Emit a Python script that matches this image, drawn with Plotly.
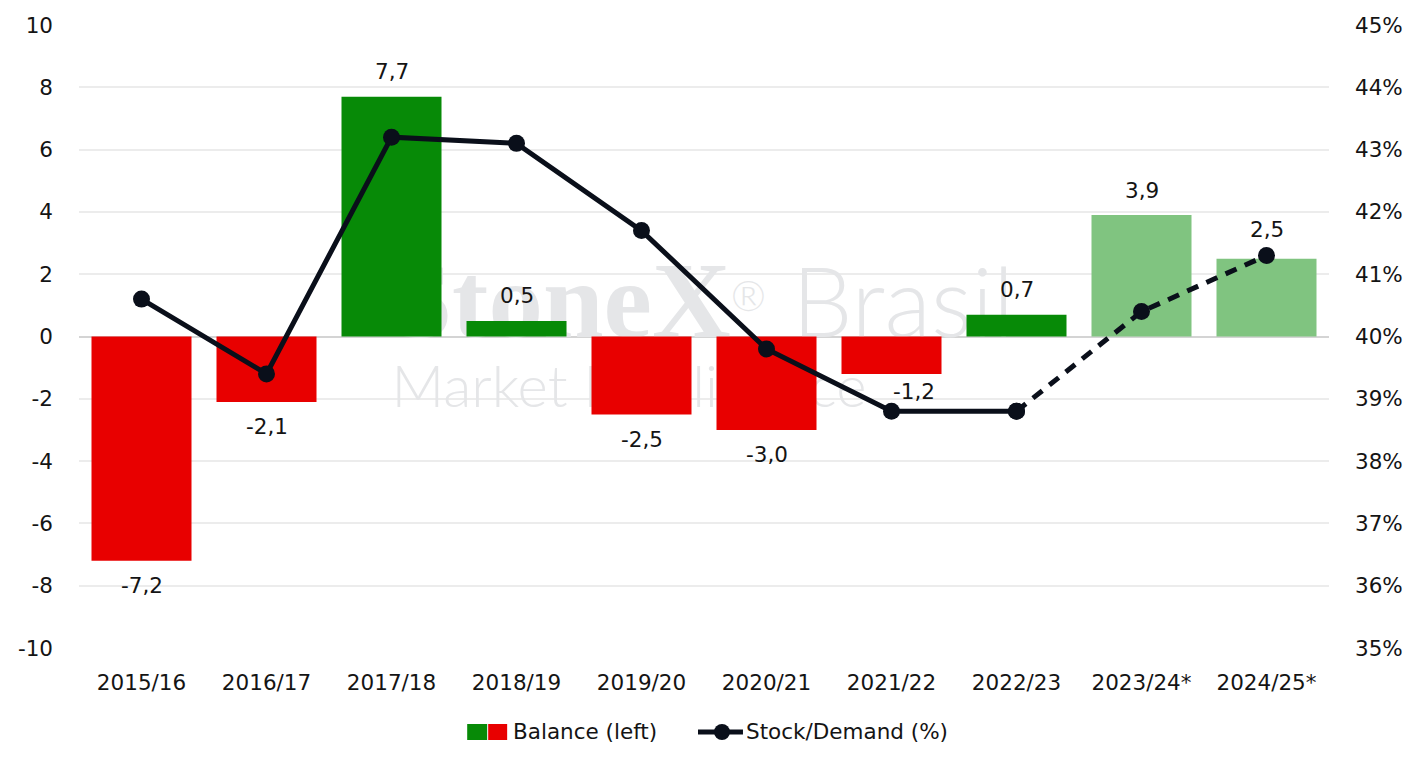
import plotly.graph_objects as go

# ---------------- data ----------------
seasons = ["2015/16", "2016/17", "2017/18", "2018/19", "2019/20",
           "2020/21", "2021/22", "2022/23", "2023/24*", "2024/25*"]
balance = [-7.2, -2.1, 7.7, 0.5, -2.5, -3.0, -1.2, 0.7, 3.9, 2.5]
stock_demand = [40.6, 39.4, 43.2, 43.1, 41.7, 39.8, 38.8, 38.8, 40.4, 41.3]
forecast = [False] * 8 + [True, True]
left_ticks = list(range(-10, 11, 2))
right_ticks = list(range(35, 46))

GREEN = "#078a07"
RED = "#e80000"
LIGHT_GREEN = "#80c480"
LINE = "#0a0f1a"
FONT = "DejaVu Sans"
TXT = "#141414"
FS = 21.5

bar_colors = [LIGHT_GREEN if f else (GREEN if v >= 0 else RED)
              for v, f in zip(balance, forecast)]

W, H = 1418, 766
ML, MR, MT, MB = 78.5, 88.5, 25, 118
PW = W - ML - MR
PH = H - MT - MB


def px_x(p):
    return (p - ML) / PW


def px_y(p):
    return (H - MB - p) / PH


fig = go.Figure()

# watermark on base subplot (drawn beneath the bars)
wm_top = ("<span style='font-family:Liberation Serif;font-weight:bold;font-size:109px'>StoneX</span>"
          "<span style='font-size:60px'><sup>®</sup></span>"
          "<span style='font-family:Lato;font-weight:300;font-size:96px'> Brasil</span>")
fig.add_trace(go.Scatter(
    x=["2017/18", "2017/18"], y=[0.54, 0.41], mode="text",
    text=[wm_top, "Market Intelligence"],
    textposition="middle right",
    textfont=dict(family="Lato", size=[100, 58], color="#e5e6e8", weight=300),
    hoverinfo="skip", showlegend=False, xaxis="x", yaxis="y", cliponaxis=False))

fig.add_trace(go.Bar(
    x=seasons, y=balance, marker=dict(color=bar_colors, line=dict(width=0)),
    name="Balance (left)", yaxis="y2", showlegend=False, hoverinfo="x+y"))

solid_idx = [i for i, f in enumerate(forecast) if not f]
dash_idx = [solid_idx[-1]] + [i for i, f in enumerate(forecast) if f]

fig.add_trace(go.Scatter(
    x=[seasons[i] for i in solid_idx], y=[stock_demand[i] for i in solid_idx],
    mode="lines+markers", line=dict(color=LINE, width=5),
    marker=dict(size=17, color=LINE), yaxis="y3", showlegend=False))
fig.add_trace(go.Scatter(
    x=[seasons[i] for i in dash_idx], y=[stock_demand[i] for i in dash_idx],
    mode="lines+markers", line=dict(color=LINE, width=5, dash="12px,9px"),
    marker=dict(size=17, color=LINE), yaxis="y3", showlegend=False))

# (xshift, yshift) overrides for labels nudged away from the line
label_shift = {"2021/22": (22, -18), "2024/25*": (0, 29)}
annotations = []
for s, v in zip(seasons, balance):
    xs, ys = label_shift.get(s, (0, 25 if v >= 0 else -25))
    annotations.append(dict(
        x=s, y=v, xref="x", yref="y2", text=f"{v:.1f}".replace(".", ","),
        showarrow=False, xshift=xs, yshift=ys,
        font=dict(family=FONT, size=FS, color=TXT)))

# custom legend
shapes = [
    dict(type="rect", xref="paper", yref="paper",
         x0=px_x(467), x1=px_x(487), y0=px_y(740), y1=px_y(724),
         fillcolor=GREEN, line=dict(width=0)),
    dict(type="rect", xref="paper", yref="paper",
         x0=px_x(488), x1=px_x(507), y0=px_y(740), y1=px_y(724),
         fillcolor=RED, line=dict(width=0)),
    dict(type="line", xref="paper", yref="paper",
         x0=px_x(698), x1=px_x(743), y0=px_y(732), y1=px_y(732),
         line=dict(color=LINE, width=5)),
    dict(type="circle", xref="paper", yref="paper",
         x0=px_x(714), x1=px_x(730), y0=px_y(740), y1=px_y(724),
         fillcolor=LINE, line=dict(width=0)),
]
annotations += [
    dict(x=px_x(511), y=px_y(732), xref="paper", yref="paper",
         text="Balance (left)", showarrow=False, xanchor="left", yanchor="middle",
         font=dict(family=FONT, size=FS, color=TXT)),
    dict(x=px_x(744), y=px_y(732), xref="paper", yref="paper",
         text="Stock/Demand (%)", showarrow=False, xanchor="left", yanchor="middle",
         font=dict(family=FONT, size=FS, color=TXT)),
]

fig.update_layout(
    width=W, height=H,
    margin=dict(l=ML, r=MR, t=MT, b=MB, pad=0),
    paper_bgcolor="white", plot_bgcolor="white",
    bargap=0.2,
    font=dict(family=FONT, size=FS, color=TXT),
    xaxis=dict(type="category", categoryorder="array", categoryarray=seasons,
               range=[-0.5, len(seasons) - 0.5], autorange=False,
               showgrid=False, showline=False, ticks="", automargin=False,
               tickfont=dict(family=FONT, size=FS, color=TXT),
               ticklabelstandoff=19),
    yaxis=dict(range=[0, 1], visible=False, fixedrange=True, automargin=False),
    yaxis2=dict(overlaying="y", side="left", range=[-10, 10],
                tickvals=left_ticks, ticktext=[str(t) for t in left_ticks],
                showgrid=True, gridcolor="#ececec", gridwidth=2,
                zeroline=True, zerolinecolor="#d4d4d4", zerolinewidth=2,
                showline=False, ticks="", ticklabelstandoff=25, automargin=False,
                tickfont=dict(family=FONT, size=FS, color=TXT)),
    yaxis3=dict(overlaying="y", side="right", range=[35, 45],
                tickvals=right_ticks, ticktext=[f"{t}%" for t in right_ticks],
                showgrid=False, zeroline=False, showline=False, ticks="",
                ticklabelstandoff=25, automargin=False,
                tickfont=dict(family=FONT, size=FS, color=TXT)),
    annotations=annotations,
    shapes=shapes,
)

fig.write_html("out.html")
